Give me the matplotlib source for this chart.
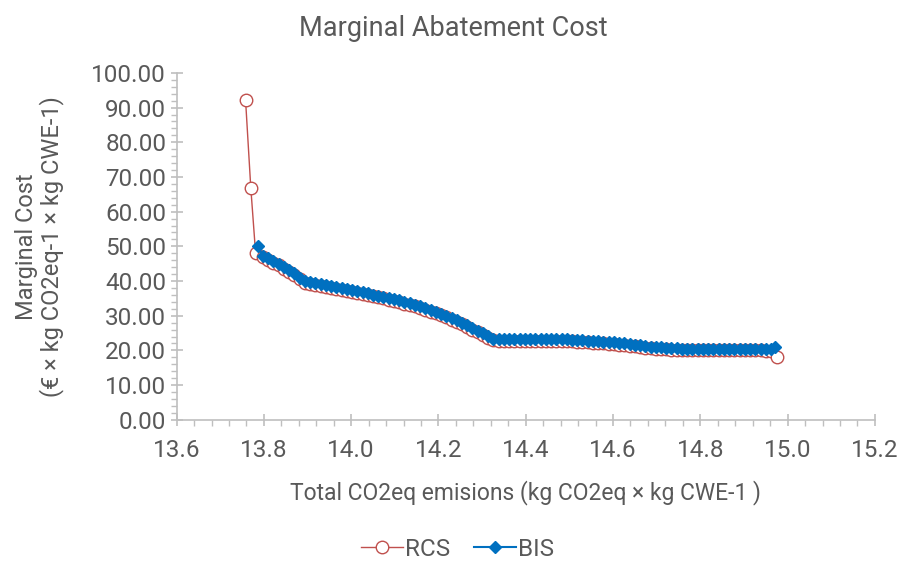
import matplotlib
matplotlib.use("Agg")
import matplotlib.pyplot as plt
from matplotlib.ticker import MultipleLocator, FormatStrFormatter

# BIS series (total emissions vs marginal cost)
bis_x = [13.786, 13.798, 13.810, 13.822, 13.834, 13.846, 13.858, 13.870, 13.882, 13.894,
         13.906, 13.918, 13.930, 13.942, 13.954, 13.966, 13.978, 13.990, 14.002, 14.014,
         14.026, 14.038, 14.050, 14.062, 14.074, 14.086, 14.098, 14.110, 14.122, 14.134,
         14.146, 14.158, 14.170, 14.182, 14.194, 14.206, 14.218, 14.230, 14.242, 14.254,
         14.266, 14.278, 14.290, 14.302, 14.314, 14.326, 14.338, 14.350, 14.362, 14.374,
         14.386, 14.398, 14.410, 14.422, 14.434, 14.446, 14.458, 14.470, 14.482, 14.494,
         14.506, 14.518, 14.530, 14.542, 14.554, 14.566, 14.578, 14.590, 14.602, 14.614,
         14.626, 14.638, 14.650, 14.662, 14.674, 14.686, 14.698, 14.710, 14.722, 14.734,
         14.746, 14.758, 14.770, 14.782, 14.794, 14.806, 14.818, 14.830, 14.842, 14.854,
         14.866, 14.878, 14.890, 14.902, 14.914, 14.926, 14.938, 14.950, 14.962, 14.972]
bis_y = [50.0, 47.3, 46.6, 45.8, 45.0, 44.1, 43.2, 42.2, 41.0, 40.0,
         39.7, 39.5, 39.2, 38.9, 38.6, 38.3, 38.0, 37.7, 37.4, 37.1,
         36.8, 36.5, 36.1, 35.8, 35.5, 35.1, 34.7, 34.4, 34.0, 33.6,
         33.2, 32.7, 32.2, 31.7, 31.2, 30.6, 30.0, 29.4, 28.7, 28.0,
         27.2, 26.5, 25.7, 24.9, 24.1, 23.4, 23.3, 23.3, 23.3, 23.3,
         23.3, 23.3, 23.3, 23.3, 23.3, 23.3, 23.2, 23.2, 23.2, 23.2,
         23.1, 23.0, 22.9, 22.8, 22.7, 22.6, 22.5, 22.4, 22.3, 22.2,
         22.0, 21.9, 21.7, 21.5, 21.3, 21.1, 21.0, 20.9, 20.8, 20.7,
         20.6, 20.5, 20.5, 20.5, 20.5, 20.5, 20.5, 20.5, 20.5, 20.5,
         20.5, 20.5, 20.5, 20.5, 20.5, 20.5, 20.5, 20.4, 20.3, 21.0]

# RCS series
rcs_x = [13.758, 13.770, 13.781] + bis_x[1:-1] + [14.975]
rcs_y = [92.2, 66.9, 48.1,
         46.8, 46.1, 45.3, 44.5, 43.6, 42.7, 41.7, 40.5, 39.5,
         39.2, 39.0, 38.7, 38.4, 38.1, 37.8, 37.5, 37.2, 36.9, 36.6,
         36.3, 36.0, 35.6, 35.3, 35.0, 34.6, 34.2, 33.9, 33.5, 33.1,
         32.7, 32.2, 31.7, 31.2, 30.7, 30.1, 29.5, 28.9, 28.2, 27.5,
         26.7, 26.0, 25.2, 24.4, 23.6, 22.9, 22.8, 22.8, 22.8, 22.8,
         22.8, 22.8, 22.8, 22.8, 22.8, 22.8, 22.7, 22.7, 22.7, 22.7,
         22.6, 22.5, 22.4, 22.3, 22.2, 22.1, 22.0, 21.9, 21.8, 21.7,
         21.5, 21.4, 21.2, 21.0, 20.8, 20.6, 20.5, 20.4, 20.3, 20.2,
         20.1, 20.0, 20.0, 20.0, 20.0, 20.0, 20.0, 20.0, 20.0, 20.0,
         20.0, 20.0, 20.0, 20.0, 20.0, 20.0, 20.0, 19.9, 19.8,
         18.0]

plt.rcParams['font.family'] = ['Roboto', 'DejaVu Sans']
txt = '#595959'
axc = '#BFBFBF'

fig = plt.figure(figsize=(9.01, 5.65), dpi=100)
ax = fig.add_axes([0.196, 0.257, 0.775, 0.614])

ax.plot(rcs_x, rcs_y, color='#C0504D', lw=1.0, marker='o', ms=9,
        mfc='white', mec='#C0504D', mew=1.0, label='RCS')
ax.plot(bis_x, bis_y, color='#0070C0', lw=1.5, marker='D', ms=6,
        mfc='#0070C0', mec='#0070C0', label='BIS')

ax.set_xlim(13.6, 15.2)
ax.set_ylim(0, 100)
ax.xaxis.set_major_locator(MultipleLocator(0.2))
ax.xaxis.set_minor_locator(MultipleLocator(0.04))
ax.yaxis.set_major_locator(MultipleLocator(10))
ax.yaxis.set_minor_locator(MultipleLocator(2))
ax.xaxis.set_major_formatter(FormatStrFormatter('%.1f'))
ax.yaxis.set_major_formatter(FormatStrFormatter('%.2f'))

for s in ['top', 'right']:
    ax.spines[s].set_visible(False)
for s in ['left', 'bottom']:
    ax.spines[s].set_color(axc)
    ax.spines[s].set_linewidth(1.2)

ax.tick_params(which='major', direction='inout', length=9, width=1.2,
               color=axc, labelcolor=txt, labelsize=17.5)
ax.tick_params(axis='x', which='major', pad=9)
ax.tick_params(axis='y', which='major', pad=3)
ax.tick_params(which='minor', direction='out', length=4, width=1.0, color=axc)

fig.text(0.503, 0.950, 'Marginal Abatement Cost', color=txt, fontsize=19.5,
         ha='center', va='center')
ax.set_xlabel('Total CO2eq emisions (kg CO2eq × kg CWE-1 )', color=txt,
              fontsize=16.5, labelpad=13)
ax.set_ylabel('Marginal Cost\n(€ × kg CO2eq-1 × kg CWE-1)', color=txt,
              fontsize=17, labelpad=20, linespacing=1.05)

leg = fig.legend(loc='center', bbox_to_anchor=(0.508, 0.028), ncol=2,
                 frameon=False, fontsize=17.5, handlelength=1.7,
                 columnspacing=1.0, handletextpad=0.1)
for t in leg.get_texts():
    t.set_color(txt)

fig.savefig('out.png', dpi=100)
